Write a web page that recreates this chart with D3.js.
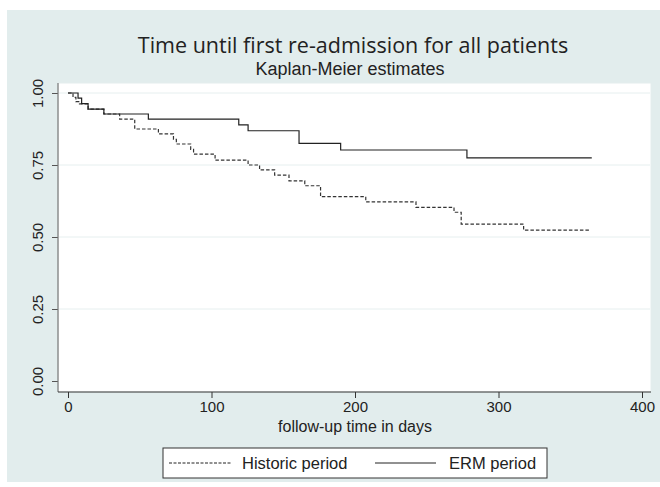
<!DOCTYPE html>
<meta charset="utf-8">
<head>
<style>
  body { margin: 0; background: #fff; }
  svg text { font-family: "Liberation Sans", Arial, sans-serif; fill: #222; }
</style>
</head>
<body>
<svg width="660" height="487"></svg>

<script src="https://cdn.jsdelivr.net/npm/d3@7"></script>
<script>
// Kaplan-Meier step points: [days, survival]
var ermTimes = [0, 7, 9.5, 14, 25, 56, 119, 125.5, 161, 190, 278, 365];
var ermSurv  = [1, 0.982, 0.963, 0.944, 0.927, 0.909, 0.889, 0.869, 0.825, 0.802, 0.775, 0.775];

var histTimes = [0, 3.5, 5.5, 8, 14, 25, 36, 46.5, 63, 73.5, 75.5, 85.5, 87.5, 102.5, 125.5,
                 133.5, 144, 154, 165, 176, 207.5, 242.5, 269, 274, 317.5, 364];
var histSurv  = [1, 0.985, 0.97, 0.962, 0.944, 0.927, 0.909, 0.875, 0.858, 0.839, 0.823, 0.804, 0.788, 0.767, 0.75,
                 0.733, 0.715, 0.695, 0.678, 0.64, 0.622, 0.603, 0.586, 0.545, 0.524, 0.524];

var xTicks = [0, 100, 200, 300, 400];
var yTicks = [0, 0.25, 0.5, 0.75, 1];
var legendLabels = ["Historic period", "ERM period"];

var svg = d3.select("svg");

// outer graph region
svg.append("rect")
    .attr("x", 7).attr("y", 10)
    .attr("width", 653).attr("height", 472)
    .attr("fill", "#e2eded");

// plot region
var plot = {left: 58, top: 83, right: 651, bottom: 392};
svg.append("rect")
    .attr("x", plot.left).attr("y", plot.top)
    .attr("width", plot.right - plot.left).attr("height", plot.bottom - plot.top)
    .attr("fill", "#fff")
    .attr("stroke", "#e4eeee");

var x = d3.scaleLinear().domain([0, 400]).range([68, 642]),
    y = d3.scaleLinear().domain([0, 1]).range([381, 93]);

// grid
svg.append("g")
  .selectAll("line")
  .data(yTicks.filter(function(d) { return d > 0; }))
  .enter().append("line")
    .attr("x1", plot.left + 1).attr("x2", plot.right - 1)
    .attr("y1", function(d) { return y(d); })
    .attr("y2", function(d) { return y(d); })
    .attr("stroke", "#e6efef")
    .attr("stroke-width", 1);

// y axis
var yAxis = svg.append("g")
    .attr("transform", "translate(" + plot.left + ",0)")
    .call(d3.axisLeft(y).tickValues(yTicks).tickFormat(d3.format(".2f")).tickSize(6));
yAxis.select(".domain").remove();
yAxis.selectAll(".tick line").attr("stroke", "#555");
yAxis.selectAll(".tick text")
    .attr("font-size", 15)
    .attr("font-family", null)
    .attr("transform", "rotate(-90)")
    .attr("x", 0).attr("y", -15)
    .attr("dy", "0")
    .attr("text-anchor", "middle");

// x axis
var xAxis = svg.append("g")
    .attr("transform", "translate(0," + plot.bottom + ")")
    .call(d3.axisBottom(x).tickValues(xTicks).tickSize(6).tickPadding(3));
xAxis.select(".domain").remove();
xAxis.selectAll(".tick line").attr("stroke", "#333");
xAxis.selectAll(".tick text").attr("font-size", 15).attr("font-family", null);

// axis lines
svg.append("line")
    .attr("x1", plot.left).attr("x2", plot.left)
    .attr("y1", plot.top).attr("y2", plot.bottom)
    .attr("stroke", "#777").attr("stroke-width", 1.2);
svg.append("line")
    .attr("x1", plot.left).attr("x2", plot.right)
    .attr("y1", plot.bottom).attr("y2", plot.bottom)
    .attr("stroke", "#333").attr("stroke-width", 1.2);

// curves
var line = d3.line()
    .curve(d3.curveStepAfter)
    .x(function(d) { return x(d[0]); })
    .y(function(d) { return y(d[1]); });

var hist = d3.zip(histTimes, histSurv),
    erm = d3.zip(ermTimes, ermSurv);

svg.append("path")
    .attr("fill", "none")
    .attr("stroke", "#333")
    .attr("stroke-width", 1.2)
    .attr("stroke-dasharray", "3.5,2")
    .attr("d", line(hist));
svg.append("path")
    .attr("fill", "none")
    .attr("stroke", "#222")
    .attr("stroke-width", 1.2)
    .attr("d", line(erm));

// titles
svg.append("text")
    .attr("x", 353).attr("y", 53)
    .attr("text-anchor", "middle")
    .style("font-family", "'Open Sans', sans-serif")
    .attr("font-size", 21.5)
    .text("Time until first re-admission for all patients");
svg.append("text")
    .attr("x", 350).attr("y", 75)
    .attr("text-anchor", "middle")
    .attr("font-size", 18)
    .text("Kaplan-Meier estimates");
svg.append("text")
    .attr("x", 355).attr("y", 432)
    .attr("text-anchor", "middle")
    .attr("font-size", 16)
    .text("follow-up time in days");

// legend
var legend = svg.append("g");
legend.append("rect")
    .attr("x", 163).attr("y", 448)
    .attr("width", 384).attr("height", 30)
    .attr("fill", "#fff")
    .attr("stroke", "#333");
var items = [{x0: 169, x1: 231, tx: 242, dash: "3,1.5"}, {x0: 375, x1: 436, tx: 449, dash: null}];
items.forEach(function(it, i) {
  legend.append("line")
      .attr("x1", it.x0).attr("x2", it.x1)
      .attr("y1", 463).attr("y2", 463)
      .attr("stroke", "#222")
      .attr("stroke-width", 1)
      .attr("stroke-dasharray", it.dash);
  legend.append("text")
      .attr("x", it.tx).attr("y", 469)
      .attr("font-size", 16.5)
      .text(legendLabels[i]);
});
</script>
</body>
